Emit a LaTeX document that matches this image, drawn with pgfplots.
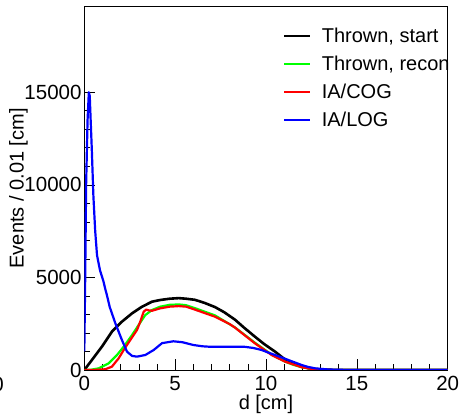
\documentclass[border=0pt]{standalone}
\usepackage{fontspec}
\setmainfont{Liberation Sans}
\usepackage{pgfplots}
\pgfplotsset{compat=1.18}
\definecolor{rgreen}{RGB}{0,255,0}
\definecolor{rred}{RGB}{255,0,0}
\definecolor{rblue}{RGB}{0,0,255}
\begin{document}
\begin{tikzpicture}
\useasboundingbox (0,0) rectangle (459pt,414pt);
\node[anchor=east, inner sep=0pt, font=\fontsize{20.5}{24}\selectfont] at (4pt,30pt) {0};
\begin{axis}[
  at={(84.3pt,44pt)}, anchor=south west,
  scale only axis, width=363.4pt, height=363.3pt,
  xmin=0, xmax=20, ymin=0, ymax=19620,
  xtick={0,5,10,15,20}, minor x tick num=4,
  ytick={0,5000,10000,15000}, minor y tick num=4,
  tick align=inside, tick pos=left,
  major tick length=11pt, minor tick length=5.5pt,
  tick style={black, line width=0.6pt},
  axis line style={line width=0.8pt},
  scaled y ticks=false,
  /pgf/number format/1000 sep={},
  /pgf/number format/assume math mode=true,
  tick label style={font=\fontsize{20.5}{24}\selectfont},
  xticklabel style={anchor=north, inner sep=0pt, yshift=-6pt},
  yticklabel style={anchor=east, inner sep=0pt, xshift=-2.6pt},
  xlabel={d [cm]}, ylabel={Events / 0.01 [cm]},
  every axis x label/.style={at={(axis description cs:0.5,-0.110)}, anchor=base, font=\fontsize{20}{24}\selectfont},
  every axis y label/.style={at={(axis description cs:-0.181,0.5)}, anchor=center, rotate=90, font=\fontsize{20}{24}\selectfont},
  legend style={at={(axis description cs:0.5476,0.948)}, anchor=north west, draw=none, fill=none,
    font=\fontsize{20}{24}\selectfont, row sep=8pt, inner sep=0pt,
    /tikz/every odd column/.append style={column sep=8.7pt}},
  legend cell align=left,
  legend image code/.code={\draw[#1,line width=1.6pt] (0pt,0pt) -- (26pt,0pt);},
  every axis plot/.append style={line join=round},
]
\addplot[black, line width=2.6pt] coordinates {
(0,0) (0.42,540) (0.97,1260) (1.52,2070) (2.07,2610) (2.63,3060) (3.18,3420)
(3.73,3690) (4.18,3780) (4.7,3850) (5.2,3880) (5.6,3850) (6.09,3790) (6.6,3630)
(7.19,3400) (7.7,3120) (8.29,2720) (8.8,2280) (9.39,1800) (9.9,1400) (10.5,990)
(10.9,680) (11.23,450) (11.6,300) (11.96,180) (12.4,80) (12.7,50) (13.2,20) (14,0) (20,0)};
\addlegendentry{Thrown, start}
\addplot[rgreen, line width=2.2pt] coordinates {
(0,0) (0.4,20) (0.79,90) (1.34,360) (1.8,810) (2.17,1260) (2.63,1890) (2.99,2430)
(3.36,2970) (3.73,3240) (4.18,3420) (4.7,3520) (5.2,3540) (5.6,3500) (6.09,3340)
(7.19,2950) (8.29,2300) (9.39,1470) (10.31,830) (11.05,450) (11.5,280) (11.96,150)
(12.5,60) (13,20) (14,0) (20,0)};
\addlegendentry{Thrown, recon}
\addplot[rred, line width=2.2pt] coordinates {
(0,0) (0.6,5) (1.16,40) (1.52,180) (1.89,630) (2.17,1080) (2.53,1620) (2.9,2160)
(3.08,2610) (3.27,3150) (3.4,3260) (3.55,3220) (3.73,3200) (4.18,3330) (4.7,3420)
(5.2,3450) (5.6,3420) (6.09,3260) (7.19,2880) (8.0,2480) (8.29,2290) (9.39,1440)
(10.31,810) (11.05,450) (11.96,150) (12.5,60) (13,20) (14,0) (20,0)};
\addlegendentry{IA/COG}
\addplot[rblue, line width=2.2pt] coordinates {
(0,1000) (0.05,5000) (0.1,10000) (0.18,13500) (0.25,15000) (0.3,14800) (0.35,13500)
(0.41,12000) (0.5,9400) (0.6,7500) (0.7,6200) (0.86,5400) (1.05,4800) (1.16,4350)
(1.23,4100) (1.4,3400) (1.71,2520) (2.07,1620) (2.35,990) (2.63,760) (2.9,720)
(3.36,810) (3.82,1080) (4.28,1450) (4.9,1550) (5.4,1500) (6.0,1350) (6.5,1280)
(7.0,1250) (7.5,1260) (8.0,1260) (8.84,1250) (9.3,1190) (9.76,1080) (10.1,950)
(10.5,810) (11.23,540) (11.96,270) (12.3,170) (12.7,90) (13.4,30) (14,10) (15,0) (20,0)};
\addlegendentry{IA/LOG}
\end{axis}
\end{tikzpicture}
\end{document}
